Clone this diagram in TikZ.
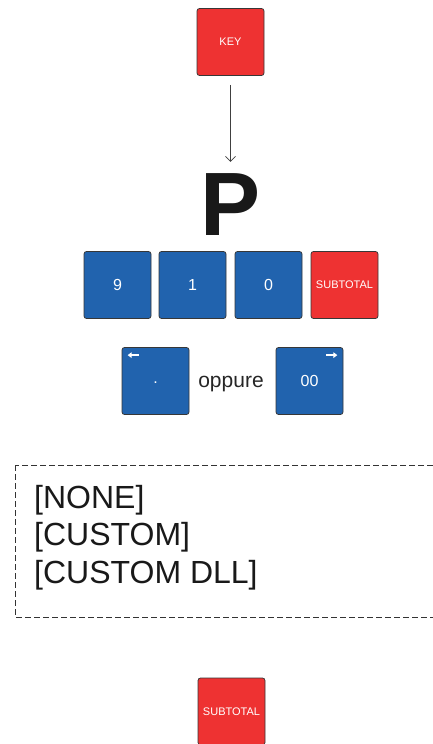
\documentclass[tikz,border=0pt]{standalone}
\usepackage{fontspec}
\setmainfont{Liberation Sans}
\usetikzlibrary{arrows.meta}
\definecolor{keyred}{RGB}{238,50,50}
\definecolor{keyblue}{RGB}{33,99,174}
\definecolor{keyedge}{RGB}{55,55,55}

\begin{document}
\begin{tikzpicture}[x=1pt,y=1pt,yscale=-1,xscale=1,
  key/.style={draw=keyedge, line width=0.75pt, rounded corners=2.5pt, minimum width=67pt, minimum height=67pt, inner sep=0pt, text=white},
  redkey/.style={key, fill=keyred, font=\fontsize{11}{13}\selectfont},
  bluekey/.style={key, fill=keyblue, font=\fontsize{16}{19}\selectfont},
  hint/.style={white, line width=1.6pt, -{Triangle[length=4pt,width=5.5pt]}}]
\useasboundingbox (0,0) rectangle (433,744);

%Shape: Key [id:key]
\node[redkey] (key) at (230.5,42) {KEY};
% Text Node
\node[font=\fontsize{90}{90}\selectfont\bfseries, text=black!90, inner sep=0pt, anchor=base] (pletter) at (231,235) {P};
%Straight Lines [id:arrow]
\draw[black!75, line width=0.75pt, -{Straight Barb[length=5pt,width=10pt]}, shorten <=9pt, shorten >=11pt] (key.south) -- (key.south |- pletter.north);

%Shape: Keys row
\node[bluekey] (nine) at (117.5,285) {9};
\node[bluekey] (one) at (192.5,285) {1};
\node[bluekey] (zero) at (268.5,285) {0};
\node[redkey] (subtotal) at (344.5,285) {SUBTOTAL};

%Shape: Keys with hints
\node[bluekey] (dot) at (155.5,381) {\vphantom{0}\raisebox{3pt}{.}};
\node[font=\fontsize{21}{25}\selectfont, text=black!85] (oppure) at (231,384) {oppure};
\node[bluekey] (double) at (309.5,381) {00};
\draw[hint] (dot.north west) ++(17,8) -- ++(-11,0);
\draw[hint] (double.north east) ++(-17,8) -- ++(11,0);

%Shape: Rectangle [id:modes]
\draw[black!80, line width=0.75pt, dash pattern={on 6pt off 3pt}] (15,465) rectangle (450,617);
% Text Node
\node[anchor=west, align=left, inner sep=0pt, text=black!90, font=\fontsize{32}{37.5}\selectfont] (modes) at (34,537.5) {[NONE]\\{[CUSTOM]}\\{[CUSTOM DLL]}};

%Shape: Key [id:total]
\node[redkey] (total) at (231.5,711.5) {SUBTOTAL};
\end{tikzpicture}
\end{document}
